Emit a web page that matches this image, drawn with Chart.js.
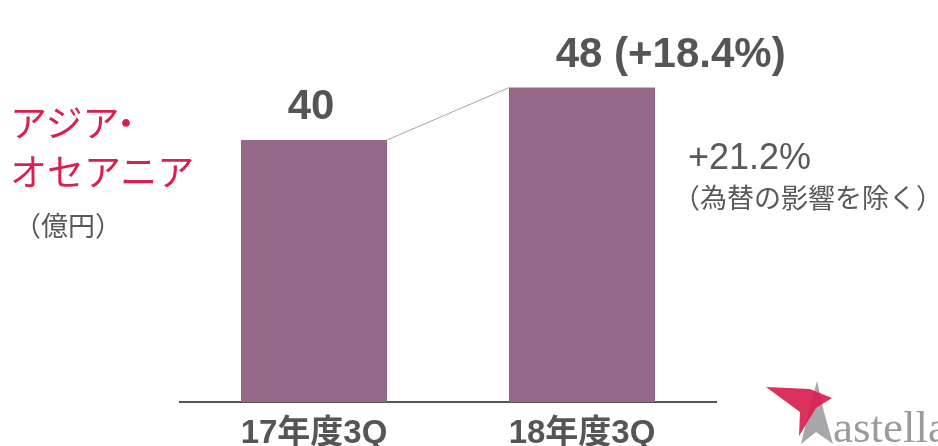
<!DOCTYPE html>
<html>
<head>
<meta charset="utf-8">
<script src="https://cdn.jsdelivr.net/npm/chart.js@4.4.1/dist/chart.umd.min.js"></script>
<style>
  html, body { margin: 0; padding: 0; background: #fff; }
  #wrap { position: relative; width: 938px; height: 446px; overflow: hidden; }
  #chart { position: absolute; left: 0; top: 0; }
  .txt { position: absolute; white-space: nowrap; font-family: "Noto Sans CJK JP", "Liberation Sans", sans-serif; }
  .region { left: 10px; color: #d9204f; font-size: 37px; line-height: 1; }
  .unit { left: 14px; top: 205px; color: #595959; font-size: 27px; }
  .fx { left: 688px; top: 136px; color: #595959; font-size: 36px; font-family: "Liberation Sans", Arial, sans-serif; }
  .fxnote { left: 673px; top: 177px; color: #595959; font-size: 27px; }
  .logo { position: absolute; left: 760px; top: 376px; }
</style>
</head>
<body>
<div id="wrap">
  <canvas id="chart" width="938" height="446"></canvas>
  <div class="txt region" style="top:103px">アジア<span style="margin-left:-12px">・</span></div>
  <div class="txt region" style="top:152px">オセアニア</div>
  <div class="txt unit">（億円）</div>
  <div class="txt fx">+21.2%</div>
  <div class="txt fxnote">（為替の影響を除く）</div>
  <svg class="logo" width="178" height="70" viewBox="0 0 178 70">
    <polygon points="57,5 64,36 73,68 56,56 41,68 48,38" fill="#a7a7ab"/>
    <polygon points="6,11 50,13 72,22 56,32 39,60 40,36" fill="#d9204f" opacity="0.92"/>
    <text x="73" y="66" font-family="Liberation Serif, serif" font-size="45" fill="#9b9b9b">astellas</text>
  </svg>
</div>
<script>
// ================= DATA =================
const categories = ["17年度3Q", "18年度3Q"];
const values = [40, 48];
const valueLabels = ["40", "48"];
const changeLabels = ["", " (+18.4%)"];

const barColor = "#956887";
const textGray = "#555555";

// ================= LABEL PLUGIN =================
const labelPlugin = {
  id: "barLabels",
  afterDatasetsDraw(chart) {
    const ctx = chart.ctx;
    const bars = chart.getDatasetMeta(0).data;

    // connector between bar tops
    const a = bars[0], b = bars[1];
    ctx.save();
    ctx.strokeStyle = "#a6a6a6";
    ctx.lineWidth = 1;
    ctx.beginPath();
    ctx.moveTo(a.x + a.width / 2, a.y);
    ctx.lineTo(b.x - b.width / 2, b.y);
    ctx.stroke();

    ctx.font = "bold 42px 'Liberation Sans', Arial, sans-serif";
    ctx.fillStyle = textGray;
    ctx.textBaseline = "alphabetic";
    bars.forEach((bar, i) => {
      const main = valueLabels[i];
      const w = ctx.measureText(main).width;
      const x0 = bar.x - w / 2 - 3;
      ctx.textAlign = "left";
      ctx.fillText(main + changeLabels[i], x0, bar.y - 21);
    });
    ctx.restore();
  }
};

// ================= CHART =================
new Chart(document.getElementById("chart"), {
  type: "bar",
  data: {
    labels: categories,
    datasets: [{
      data: values,
      backgroundColor: barColor,
      barPercentage: 1,
      categoryPercentage: 0.545
    }]
  },
  options: {
    responsive: false,
    animation: false,
    layout: { padding: { left: 180, right: 222, top: 9, bottom: 0 } },
    plugins: { legend: { display: false }, tooltip: { enabled: false } },
    scales: {
      x: {
        grid: { display: false },
        border: { display: true, color: "#555555", width: 2 },
        ticks: {
          color: textGray,
          padding: 4,
          font: { family: "'Liberation Sans', 'Noto Sans CJK JP', sans-serif", size: 33, weight: "bold" }
        },
        afterFit: s => { s.height = 44; }
      },
      y: {
        display: false,
        min: 0,
        max: 60
      }
    }
  },
  plugins: [labelPlugin]
});
</script>
</body>
</html>
